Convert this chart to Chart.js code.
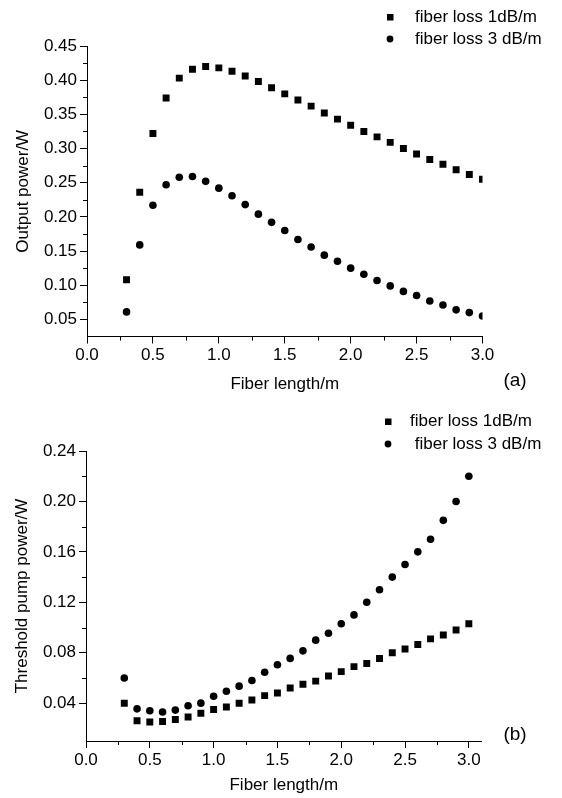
<!DOCTYPE html>
<html><head><meta charset="utf-8">
<script src="https://cdn.jsdelivr.net/npm/chart.js@4"></script>
<style>
html,body{margin:0;padding:0;background:#fff;}
#wrap{position:relative;width:562px;height:798px;background:#fff;}
canvas{position:absolute;left:0;top:0;}
</style></head><body>
<div id="wrap"><canvas id="ca" width="562" height="798"></canvas><canvas id="cb" width="562" height="798"></canvas></div>
<script>
// ---- data ----
const fiberLength = [0.3,0.4,0.5,0.6,0.7,0.8,0.9,1.0,1.1,1.2,1.3,1.4,1.5,1.6,1.7,1.8,1.9,2.0,2.1,2.2,2.3,2.4,2.5,2.6,2.7,2.8,2.9,3.0];
const outputLoss1 = [0.108,0.236,0.322,0.374,0.403,0.416,0.420,0.418,0.413,0.406,0.398,0.389,0.380,0.371,0.362,0.352,0.343,0.334,0.325,0.317,0.309,0.300,0.292,0.284,0.277,0.269,0.262,0.255];
const outputLoss3 = [0.061,0.159,0.217,0.247,0.258,0.259,0.252,0.242,0.231,0.218,0.204,0.192,0.180,0.167,0.156,0.144,0.135,0.125,0.116,0.107,0.099,0.091,0.085,0.077,0.071,0.064,0.060,0.055];
const thresholdLoss1 = [0.040,0.026,0.025,0.0255,0.027,0.029,0.032,0.035,0.037,0.040,0.0425,0.046,0.048,0.052,0.055,0.0575,0.0615,0.065,0.069,0.0715,0.0755,0.080,0.083,0.0865,0.091,0.094,0.098,0.103];
const thresholdLoss3 = [0.060,0.0355,0.034,0.033,0.0345,0.038,0.040,0.0455,0.0495,0.0535,0.058,0.0645,0.0705,0.0755,0.0815,0.090,0.0955,0.103,0.110,0.120,0.130,0.140,0.150,0.160,0.170,0.185,0.200,0.220];
const xTickLabels = [0.0,0.5,1.0,1.5,2.0,2.5,3.0];
const yTicksA = [0.05,0.10,0.15,0.20,0.25,0.30,0.35,0.40,0.45];
const yTicksB = [0.04,0.08,0.12,0.16,0.20,0.24];
const legendA = ['fiber loss 1dB/m','fiber loss 3 dB/m'];
const legendB = ['fiber loss 1dB/m',' fiber loss 3 dB/m'];

// ---- drawing helpers ----
const FONT = '"Liberation Sans", Arial, sans-serif';
const FS = 17;

const decor = {
  id: 'decor',
  afterDraw(chart, args, o) {
    const ctx = chart.ctx, xs = chart.scales.x, ys = chart.scales.y, ca = chart.chartArea;
    ctx.save();
    ctx.strokeStyle = '#000'; ctx.lineWidth = 1;
    ctx.beginPath();
    const xt = o.xTicks, yt = o.yTicks;
    for (let i = 0; i < xt.length - 1; i++) {
      const v = (xt[i] + xt[i+1]) / 2;
      const px = Math.round(xs.getPixelForValue(v)) + 0.5;
      ctx.moveTo(px, ca.bottom); ctx.lineTo(px, ca.bottom + 4);
    }
    for (let i = 0; i < yt.length - 1; i++) {
      const v = (yt[i] + yt[i+1]) / 2;
      const py = Math.round(ys.getPixelForValue(v)) + 0.5;
      ctx.moveTo(ca.left, py); ctx.lineTo(ca.left - 4, py);
    }
    ctx.stroke();
    // legend
    ctx.fillStyle = '#000';
    ctx.font = FS + 'px ' + FONT;
    ctx.textBaseline = 'middle';
    ctx.textAlign = 'left';
    const L = o.legend;
    chart.data.datasets.forEach((ds, i) => {
      const mx = L.x, my = L.y + i * L.dy;
      if (ds.pointStyle === 'rect') {
        ctx.fillRect(mx - 3, my - 3, 6.5, 6.5);
      } else {
        ctx.beginPath(); ctx.arc(mx, my, 3.4, 0, Math.PI * 2); ctx.fill();
      }
      ctx.fillText(ds.label, L.tx, my);
    });
    ctx.font = '19px ' + FONT;
    ctx.textAlign = 'center';
    ctx.fillText(o.tag.text, o.tag.x, o.tag.y);
    ctx.restore();
  }
};

function makeChart(id, cfg) {
  const ds = (label, ys, style, r) => ({
    label, pointStyle: style, pointRadius: r, pointHoverRadius: r,
    pointBorderWidth: 0, backgroundColor: '#000', borderColor: '#000', clip: 0,
    data: fiberLength.map((x, i) => ({x, y: ys[i]}))
  });
  return new Chart(document.getElementById(id), {
    type: 'scatter',
    data: { datasets: [
      ds(cfg.labels[0], cfg.s1, 'rect', 4.9),
      ds(cfg.labels[1], cfg.s2, 'circle', 3.8)
    ]},
    options: {
      responsive: false, animation: false, devicePixelRatio: 1,
      layout: { padding: cfg.padding },
      plugins: { legend: {display: false}, tooltip: {enabled: false}, decor: cfg.decor },
      scales: {
        x: {
          type: 'linear', min: 0, max: cfg.xmax,
          afterBuildTicks: s => { s.ticks = xTickLabels.map(v => ({value: v})); },
          afterFit: s => { s.height = cfg.xh; },
          ticks: { color: '#000', font: {family: FONT, size: FS}, padding: 2, maxRotation: 0, autoSkip: false,
                   callback: v => Number(v).toFixed(1) },
          grid: { drawOnChartArea: false, drawTicks: true, tickLength: 7, color: '#000', lineWidth: 1 },
          border: { display: true, color: '#000', width: 1 },
          title: { display: true, text: 'Fiber length/m', color: '#000', font: {family: FONT, size: FS},
                   padding: {top: 0, bottom: cfg.xtp} }
        },
        y: {
          type: 'linear', min: cfg.ymin, max: cfg.ymax,
          afterBuildTicks: s => { s.ticks = cfg.yTicks.map(v => ({value: v})); },
          afterFit: s => { s.width = cfg.yw; },
          ticks: { color: '#000', font: {family: FONT, size: FS}, padding: 3, autoSkip: false,
                   callback: v => Number(v).toFixed(2) },
          grid: { drawOnChartArea: false, drawTicks: true, tickLength: 7, color: '#000', lineWidth: 1 },
          border: { display: true, color: '#000', width: 1 },
          title: { display: true, text: cfg.ytitle, color: '#000', font: {family: FONT, size: FS},
                   padding: {top: cfg.ytp, bottom: 0} }
        }
      }
    },
    plugins: [decor]
  });
}

makeChart('ca', {
  labels: legendA, s1: outputLoss1, s2: outputLoss3,
  xmax: 3.0, ymin: 0.025, ymax: 0.45, yTicks: yTicksA,
  padding: {left: 0, right: 79.5, top: 46, bottom: 401.5},
  xh: 60, yw: 87, xtp: 1.5, ytp: 12.8, ytitle: 'Output power/W',
  decor: { xTicks: xTickLabels, yTicks: yTicksA,
           legend: {x: 390, y: 17, dy: 22, tx: 415}, tag: {text: '(a)', x: 515, y: 381} }
});
makeChart('cb', {
  labels: legendB, s1: thresholdLoss1, s2: thresholdLoss3,
  xmax: 3.1, ymin: 0.01, ymax: 0.24, yTicks: yTicksB,
  padding: {left: 0, right: 80.4, top: 451, bottom: 2},
  xh: 55, yw: 86, xtp: 0, ytp: 11.8, ytitle: 'Threshold pump power/W',
  decor: { xTicks: xTickLabels, yTicks: yTicksB,
           legend: {x: 388, y: 421.5, dy: 22.5, tx: 410}, tag: {text: '(b)', x: 515, y: 735} }
});
</script>
</body></html>
